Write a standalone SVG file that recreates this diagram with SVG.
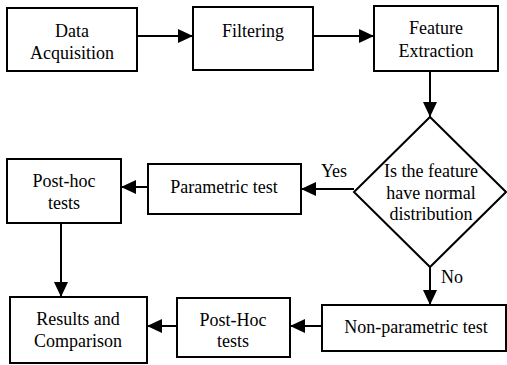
<svg xmlns="http://www.w3.org/2000/svg" width="507" height="365" viewBox="0 0 507 365">
<style>
.box{fill:#fff;stroke:#000;stroke-width:2}
.t{font-family:'Liberation Serif',serif;font-size:18px;fill:#000;text-anchor:middle}
.ln{stroke:#000;stroke-width:2;fill:none}
</style>
<defs>
<marker id="ah" markerUnits="userSpaceOnUse" markerWidth="16" markerHeight="14" refX="15" refY="7" orient="auto">
<path d="M0,0 L15,7 L0,14 Z" fill="#000"/>
</marker>
</defs>
<rect width="507" height="365" fill="#fff"/>
<g id="connectors">
<line class="ln" x1="137" y1="36" x2="193" y2="36" marker-end="url(#ah)"/>
<line class="ln" x1="313" y1="36" x2="374" y2="36" marker-end="url(#ah)"/>
<line class="ln" x1="430" y1="71" x2="430" y2="117" marker-end="url(#ah)"/>
<line class="ln" x1="354" y1="189" x2="301" y2="189" marker-end="url(#ah)"/>
<line class="ln" x1="148" y1="187" x2="121" y2="187" marker-end="url(#ah)"/>
<line class="ln" x1="61" y1="223" x2="61" y2="297" marker-end="url(#ah)"/>
<line class="ln" x1="430" y1="267" x2="430" y2="305" marker-end="url(#ah)"/>
<line class="ln" x1="322" y1="326" x2="290" y2="326" marker-end="url(#ah)"/>
<line class="ln" x1="177" y1="326" x2="147" y2="326" marker-end="url(#ah)"/>
<text class="t" x="334" y="177">Yes</text>
<text class="t" x="452" y="283">No</text>
</g>
<g id="data-acquisition">
<rect class="box" x="7" y="8" width="130" height="63"/>
<text class="t" x="72" y="37">Data</text>
<text class="t" x="72" y="59">Acquisition</text>
</g>
<g id="filtering">
<rect class="box" x="193" y="7" width="120" height="63"/>
<text class="t" x="253" y="37">Filtering</text>
</g>
<g id="feature-extraction">
<rect class="box" x="374" y="6" width="124" height="65"/>
<text class="t" x="436" y="34">Feature</text>
<text class="t" x="436" y="57">Extraction</text>
</g>
<g id="decision">
<polygon class="box" points="430,117 506,192 430,267 354,192"/>
<text class="t" x="431" y="177">Is the feature</text>
<text class="t" x="431" y="199">have normal</text>
<text class="t" x="431" y="220">distribution</text>
</g>
<g id="parametric-test">
<rect class="box" x="148" y="164" width="153" height="50"/>
<text class="t" x="224" y="193">Parametric test</text>
</g>
<g id="post-hoc-tests-1">
<rect class="box" x="7" y="159" width="114" height="64"/>
<text class="t" x="64" y="187">Post-hoc</text>
<text class="t" x="64" y="209">tests</text>
</g>
<g id="results">
<rect class="box" x="10" y="297" width="137" height="66"/>
<text class="t" x="78" y="325">Results and</text>
<text class="t" x="78" y="347">Comparison</text>
</g>
<g id="post-hoc-tests-2">
<rect class="box" x="177" y="298" width="113" height="59"/>
<text class="t" x="233" y="326">Post-Hoc</text>
<text class="t" x="233" y="347">tests</text>
</g>
<g id="non-parametric-test">
<rect class="box" x="322" y="305" width="184" height="46"/>
<text class="t" x="416" y="333">Non-parametric test</text>
</g>
</svg>
